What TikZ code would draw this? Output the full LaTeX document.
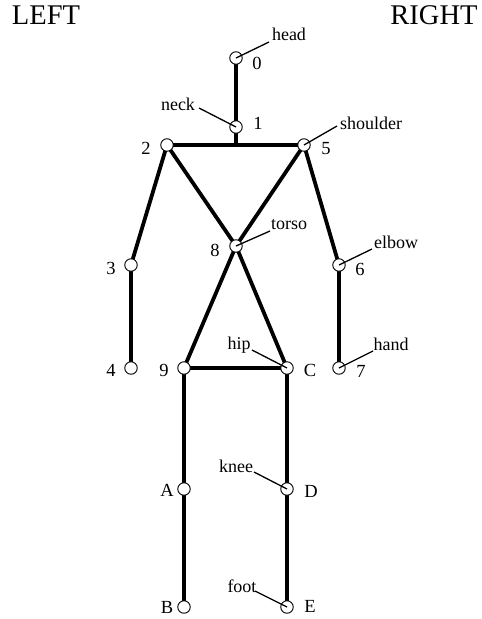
\documentclass[tikz,border=0pt]{standalone}
\usepackage{fontspec}
\setmainfont{Liberation Serif}
\begin{document}
\begin{tikzpicture}[x=1pt,y=-1pt,
  joint/.style={circle,draw,fill=white,line width=0.9pt,inner sep=0pt,minimum size=12.5pt},
  bone/.style={line width=3.8pt},
  lead/.style={line width=1.3pt},
  num/.style={font=\fontsize{18.5}{20}\selectfont,inner sep=0pt},
  tag/.style={font=\fontsize{18}{20}\selectfont,inner sep=0pt},
  side/.style={font=\fontsize{28.5}{30}\selectfont,inner sep=0pt}]
\useasboundingbox (0,0) rectangle (482,619);
% joints positions
\coordinate (p0) at (236,58);
\coordinate (p1) at (236,127);
\coordinate (p2) at (167,145);
\coordinate (p5) at (304,145);
\coordinate (pN) at (236,145);
\coordinate (p8) at (236,246);
\coordinate (p3) at (131,265);
\coordinate (p6) at (339,265);
\coordinate (p4) at (131,368);
\coordinate (p7) at (339,368);
\coordinate (p9) at (184,368);
\coordinate (pC) at (287,368);
\coordinate (pA) at (184,489);
\coordinate (pD) at (287,489);
\coordinate (pB) at (184,607);
\coordinate (pE) at (287,607);
% bones
\draw[bone] (p0) -- (pN);
\draw[bone] (p2) -- (p5);
\draw[bone] (p2) -- (p8) -- (pC);
\draw[bone] (p5) -- (p8) -- (p9);
\draw[bone] (p2) -- (p3) -- (p4);
\draw[bone] (p5) -- (p6) -- (p7);
\draw[bone] (p9) -- (pC);
\draw[bone] (p9) -- (pA) -- (pB);
\draw[bone] (pC) -- (pD) -- (pE);
% joints
\foreach \n in {0,1,2,3,4,5,6,7,8,9,C,A,B,D,E}
  \node[joint] (j\n) at (p\n) {};
% numbers
\node[num] (n0) at (257,63) {0};
\node[num] (n1) at (258,123) {1};
\node[num] (n2) at (146,148) {2};
\node[num] (n5) at (326,149) {5};
\node[num] (n8) at (215,250) {8};
\node[num] (n3) at (111,268) {3};
\node[num] (n6) at (360,269) {6};
\node[num] (n4) at (111,370) {4};
\node[num] (n7) at (361,371) {7};
\node[num] (n9) at (164,370) {9};
\node[num] (nC) at (310,370) {C};
\node[num] (nA) at (167,490) {A};
\node[num] (nD) at (311,491) {D};
\node[num] (nB) at (167,607) {B};
\node[num] (nE) at (310,606) {E};
% tags
\node[tag] (thead) at (289,34) {head};
\node[tag] (tneck) at (178,104) {neck};
\node[tag] (tshoulder) at (371,123) {shoulder};
\node[tag] (ttorso) at (289,225) {torso};
\node[tag] (telbow) at (396,242) {elbow};
\node[tag] (thip) at (239,345) {hip};
\node[tag] (thand) at (391,344) {hand};
\node[tag] (tknee) at (236,466) {knee};
\node[tag] (tfoot) at (242,586) {foot};
\coordinate (lhead) at (269,42);
\coordinate (lneck) at (199,108);
\coordinate (lshoulder) at (337,126);
\coordinate (ltorso) at (270,231);
\coordinate (lelbow) at (372,249);
\coordinate (lhip) at (252,350);
\coordinate (lhand) at (373,351);
\coordinate (lknee) at (254,472);
\coordinate (lfoot) at (255,591);
\draw[lead] (lhead) -- (j0.center);
\draw[lead] (lneck) -- (j1.center);
\draw[lead] (lshoulder) -- (j5.center);
\draw[lead] (ltorso) -- (j8.center);
\draw[lead] (lelbow) -- (j6.center);
\draw[lead] (lhip) -- (jC.center);
\draw[lead] (lhand) -- (j7.center);
\draw[lead] (lknee) -- (jD.center);
\draw[lead] (lfoot) -- (jE.center);
% sides
\node[side] (left) at (46,15) {LEFT};
\node[side] (right) at (434,15) {RIGHT};
\end{tikzpicture}
\end{document}
